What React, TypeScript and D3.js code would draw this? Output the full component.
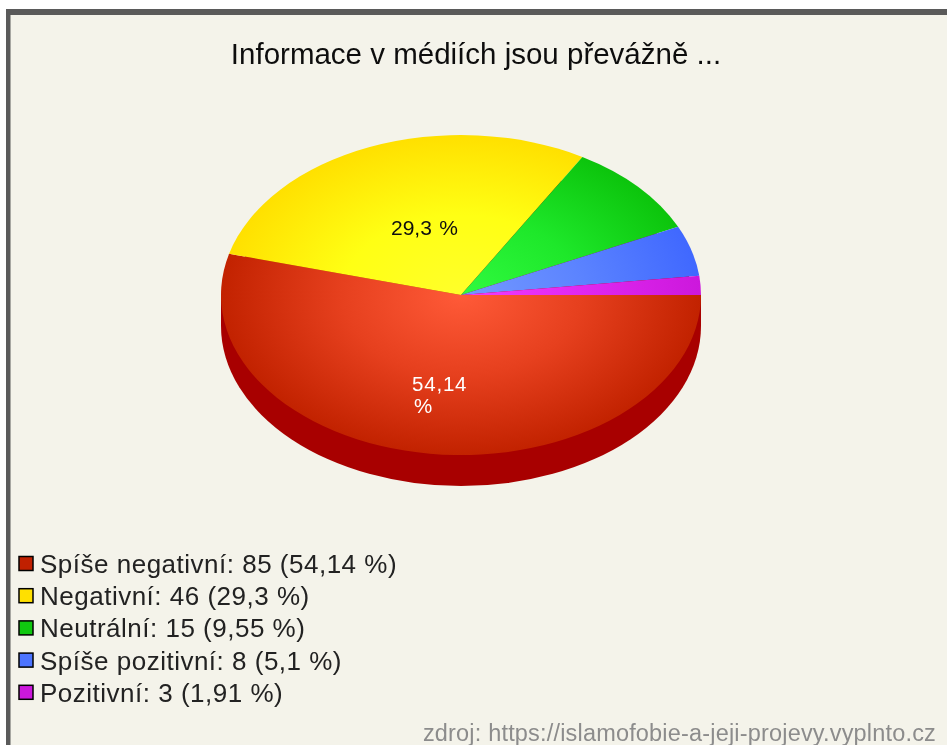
import React from "react";
import * as d3 from "d3";

const categories = ["Spíše negativní", "Negativní", "Neutrální", "Spíše pozitivní", "Pozitivní"];
const counts = [85, 46, 15, 8, 3];
const percentLabels = ["54,14", "29,3", "9,55", "5,1", "1,91"];
const innerColors = ["#ff5a38", "#ffff2a", "#30fa40", "#7499ff", "#f23cff"];
const midColors = ["#e6401e", "#ffff14", "#1ee82a", "#5c84ff", "#e028f0"];
const outerColors = ["#c22200", "#ffe000", "#0cc40c", "#4068ff", "#cc18dc"];
const legendColors = ["#c02000", "#ffe000", "#10c810", "#4c74ff", "#cc18dc"];
const titleText = "Informace v médiích jsou převážně ...";
const sourceText = "zdroj: https://islamofobie-a-jeji-projevy.vyplnto.cz";

const W = 947, H = 745, cx = 461, cy = 295, rx = 240, ry = 160, depth = 31;

export default function App() {
  const pie = d3.pie<number>().sort(null).startAngle(Math.PI / 2).endAngle(Math.PI / 2 + 2 * Math.PI);
  const arcs = pie(counts);
  const arc = d3.arc<d3.PieArcDatum<number>>().innerRadius(0).outerRadius(rx);
  const legendY = d3.scaleBand<number>().domain(d3.range(categories.length)).range([549, 710]);
  const font = "'Liberation Sans', Arial, sans-serif";
  return (
    <svg width={W} height={H} viewBox={`0 0 ${W} ${H}`} style={{ position: "absolute", left: 0, top: 0, display: "block" }}>
      <defs>
        <filter id="soft" filterUnits="userSpaceOnUse" x={0} y={0} width={W} height={H}>
          <feGaussianBlur stdDeviation="0.55" />
        </filter>
        {innerColors.map((c, i) => (
          <radialGradient key={i} id={`g${i}`} gradientUnits="userSpaceOnUse" cx={0} cy={0} r={rx}>
            <stop offset="0%" stopColor={c} />
            <stop offset="50%" stopColor={midColors[i]} />
            <stop offset="100%" stopColor={outerColors[i]} />
          </radialGradient>
        ))}
      </defs>
      <rect width={W} height={H} fill="#ffffff" />
      <rect x={6} y={9} width={W} height={H} fill="#5a5a5a" />
      <rect x={10.5} y={15} width={W} height={H} fill="#f4f3ea" />

      <g fill="#a80000">
        <ellipse cx={cx} cy={cy + depth} rx={rx} ry={ry} />
        <rect x={cx - rx} y={cy} width={2 * rx} height={depth} />
      </g>
      <g transform={`translate(${cx},${cy}) scale(1,${ry / rx})`}>
        {arcs.map((a, i) => (
          <path key={i} d={arc(a) ?? ""} fill={`url(#g${i})`} />
        ))}
      </g>

      {categories.map((c, i) => (
        <rect key={c} x={19} y={legendY(i)! + 7.5} width={14} height={14} fill={legendColors[i]} stroke="#000" strokeWidth={1.5} />
      ))}
      <g filter="url(#soft)" fontFamily={font}>
        <text x={476} y={64} textAnchor="middle" fontSize={29.5} fill="#111">{titleText}</text>
        <text x={391} y={235} fontSize={21} wordSpacing={1.5} fill="#111">{`${percentLabels[1]} %`}</text>
        <text x={412} y={391} fontSize={20.5} letterSpacing={0.8} fill="#fff">{percentLabels[0]}</text>
        <text x={414} y={413} fontSize={20.5} fill="#fff">%</text>
        {categories.map((c, i) => (
          <text key={c} x={40} y={legendY(i)! + 24} fontSize={26} letterSpacing={0.5} fill="#222">
            {`${c}: ${counts[i]} (${percentLabels[i]} %)`}
          </text>
        ))}
        <text x={936} y={741} textAnchor="end" fontSize={23.5} letterSpacing={0.18} fill="#8c8c8c">{sourceText}</text>
      </g>
    </svg>
  );
}
